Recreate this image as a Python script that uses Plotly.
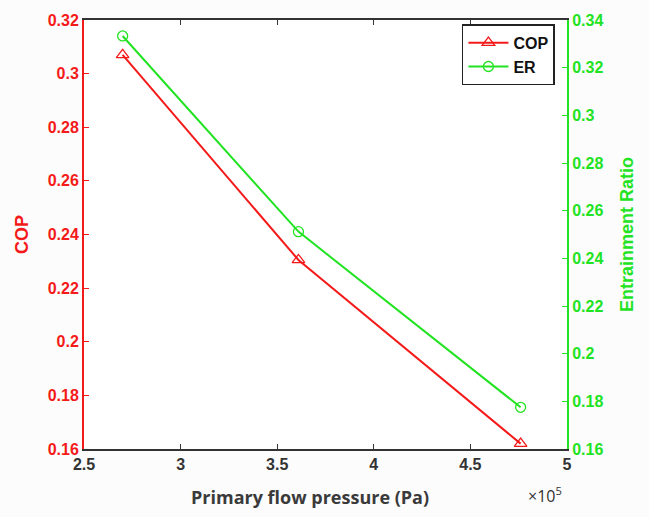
import plotly.graph_objects as go

pressure = [2.70e5, 3.61e5, 4.76e5]
cop = [0.307, 0.2305, 0.162]
er = [0.3333, 0.2512, 0.1775]

x_ticks = [2.5e5, 3.0e5, 3.5e5, 4.0e5, 4.5e5, 5.0e5]
x_ticktext = ["2.5", "3", "3.5", "4", "4.5", "5"]
cop_ticks = [0.16, 0.18, 0.2, 0.22, 0.24, 0.26, 0.28, 0.3, 0.32]
cop_ticktext = ["0.16", "0.18", "0.2", "0.22", "0.24", "0.26", "0.28", "0.3", "0.32"]
er_ticks = [0.16, 0.18, 0.2, 0.22, 0.24, 0.26, 0.28, 0.3, 0.32, 0.34]
er_ticktext = ["0.16", "0.18", "0.2", "0.22", "0.24", "0.26", "0.28", "0.3", "0.32", "0.34"]

RED = "#f41a1a"
GREEN = "#22e322"
FONT = "Liberation Sans"

fig = go.Figure()
fig.add_trace(go.Scatter(
    x=pressure, y=cop, name="COP", mode="lines+markers",
    line=dict(color=RED, width=2),
    marker=dict(symbol="triangle-up-open", size=11, color=RED, line=dict(width=1.3)),
    yaxis="y"))
fig.add_trace(go.Scatter(
    x=pressure, y=er, name="ER", mode="lines+markers",
    line=dict(color=GREEN, width=2),
    marker=dict(symbol="circle-open", size=10, color=GREEN, line=dict(width=1.3)),
    yaxis="y2"))

fig.update_layout(
    width=649, height=517,
    margin=dict(l=84, r=82, t=15, b=68),
    paper_bgcolor="#fcfcfc", plot_bgcolor="white",
    font=dict(family=FONT, size=15),
    showlegend=True,
    legend=dict(x=0.975, y=0.99, xanchor="right", yanchor="top",
                bgcolor="white", bordercolor="#222222", borderwidth=1.5,
                font=dict(family=FONT, size=16, color="#111111", weight="bold"),
                itemwidth=40, tracegroupgap=0),
    xaxis=dict(
        range=[2.5e5, 5.0e5], tickvals=x_ticks, ticktext=x_ticktext,
        showline=True, linecolor="#333333", linewidth=1.5, mirror="ticks",
        ticks="inside", ticklen=5, tickcolor="#333333", showgrid=False, zeroline=False,
        tickfont=dict(family=FONT, size=16, color="#333333", weight="bold"),
    ),
    yaxis=dict(
        range=[0.16, 0.32], tickvals=cop_ticks, ticktext=cop_ticktext,
        showline=True, linecolor=RED, linewidth=2, ticks="inside", ticklen=5,
        tickcolor=RED, showgrid=False, zeroline=False,
        tickfont=dict(family=FONT, size=16, color=RED, weight="bold"),
        title=dict(text="COP", standoff=14,
                   font=dict(family=FONT, size=18, color=RED, weight="bold")),
    ),
    yaxis2=dict(
        range=[0.16, 0.34], tickvals=er_ticks, ticktext=er_ticktext,
        overlaying="y", side="right",
        showline=True, linecolor=GREEN, linewidth=2, ticks="inside", ticklen=5,
        tickcolor=GREEN, showgrid=False, zeroline=False,
        tickfont=dict(family=FONT, size=16, color=GREEN, weight="bold"),
        title=dict(text="Entrainment Ratio", standoff=18,
                   font=dict(family=FONT, size=18, color=GREEN, weight="bold")),
    ),
    annotations=[
        dict(text="Primary flow pressure (Pa)", xref="paper", yref="paper",
             x=0.468, y=-0.112, xanchor="center", yanchor="middle", showarrow=False,
             font=dict(family="Open Sans", size=18, color="#3a3a3a", weight="bold")),
        dict(text="×10<sup>5</sup>", xref="paper", yref="paper", x=0.955, y=-0.075,
             xanchor="center", yanchor="top", showarrow=False,
             font=dict(family="Open Sans", size=16, color="#333333")),
    ],
)

fig.write_html("out.html")
